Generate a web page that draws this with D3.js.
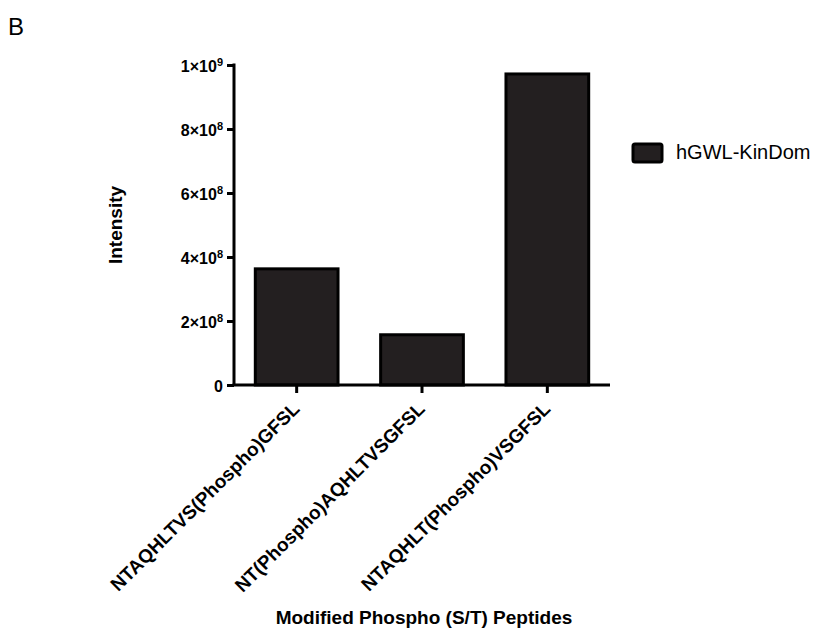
<!DOCTYPE html>
<html>
<head>
<meta charset="utf-8">
<script src="https://cdn.jsdelivr.net/npm/d3@7"></script>
<style>
  body { margin: 0; background: #fff; }
  text { font-family: "Liberation Sans", Arial, sans-serif; }
</style>
</head>
<body>
<svg id="chart" width="814" height="628"></svg>
<script>
// data
const peptides = ["NTAQHLTVS(Phospho)GFSL", "NT(Phospho)AQHLTVSGFSL", "NTAQHLT(Phospho)VSGFSL"];
const intensity = [3.63e8, 1.57e8, 9.72e8];
const yTicks = [0, 2e8, 4e8, 6e8, 8e8, 1e9];
const seriesName = "hGWL-KinDom";

const svg = d3.select("#chart");
const plotLeft = 234, plotRight = 610, plotTop = 65, plotBottom = 385;

const x = d3.scaleBand().domain(peptides).range([plotLeft, plotRight]).paddingInner(0.34).paddingOuter(0.17);
const y = d3.scaleLinear().domain([0, 1e9]).range([plotBottom, plotTop]);

// panel letter
svg.append("text").attr("x", 8).attr("y", 35).attr("font-size", 24).text("B");

// bars
svg.selectAll("rect.bar")
    .data(intensity)
    .enter()
    .append("rect")
    .attr("class", "bar")
    .attr("x", (d, i) => x(peptides[i]))
    .attr("y", d => y(d))
    .attr("width", x.bandwidth())
    .attr("height", d => plotBottom - y(d))
    .attr("fill", "#231f20")
    .attr("stroke", "#000")
    .attr("stroke-width", 3);

// y axis
const yAxis = svg.append("g")
    .attr("transform", `translate(${plotLeft},0)`)
    .call(d3.axisLeft(y).tickValues(yTicks).tickSize(7).tickFormat(""));
yAxis.select(".domain").attr("stroke-width", 3).attr("d", `M0,${plotTop - 1.5}V${plotBottom}`);
yAxis.selectAll(".tick line").attr("stroke-width", 3);

// tick labels with superscript exponents
yTicks.forEach(v => {
    const t = svg.append("text")
        .attr("x", plotLeft - 11)
        .attr("y", y(v) + 7)
        .attr("text-anchor", "end")
        .attr("font-size", 16)
        .attr("font-weight", "bold");
    if (v === 0) { t.text("0"); return; }
    const exp = Math.floor(Math.log10(v));
    const mant = Math.round(v / Math.pow(10, exp));
    t.append("tspan").text(mant + "×10");
    t.append("tspan").attr("font-size", 11).attr("dy", -6).text(exp);
});

// x axis
const xAxis = svg.append("g")
    .attr("transform", `translate(0,${plotBottom})`)
    .call(d3.axisBottom(x).tickSize(8).tickFormat(""));
xAxis.select(".domain").attr("stroke-width", 3).attr("d", `M${plotLeft - 1.5},0H${plotRight}`);
xAxis.selectAll(".tick line").attr("stroke-width", 3);

svg.selectAll("text.xlab")
    .data(peptides)
    .enter()
    .append("text")
    .attr("class", "xlab")
    .attr("transform", d => `translate(${x(d) + x.bandwidth() / 2 + 4},${plotBottom + 25}) rotate(-45)`)
    .attr("text-anchor", "end")
    .attr("font-size", 19)
    .attr("font-weight", "bold")
    .text(d => d);

// axis titles
svg.append("text")
    .attr("transform", `translate(122,${(plotTop + plotBottom) / 2}) rotate(-90)`)
    .attr("text-anchor", "middle")
    .attr("font-size", 19)
    .attr("font-weight", "bold")
    .text("Intensity");

svg.append("text")
    .attr("x", 424)
    .attr("y", 624)
    .attr("text-anchor", "middle")
    .attr("font-size", 19)
    .attr("font-weight", "bold")
    .text("Modified Phospho (S/T) Peptides");

// legend
svg.append("rect")
    .attr("x", 633).attr("y", 144).attr("width", 29).attr("height", 18).attr("rx", 2)
    .attr("fill", "#231f20").attr("stroke", "#000").attr("stroke-width", 3);
svg.append("text").attr("x", 676).attr("y", 159).attr("font-size", 20).text(seriesName);
</script>
</body>
</html>
